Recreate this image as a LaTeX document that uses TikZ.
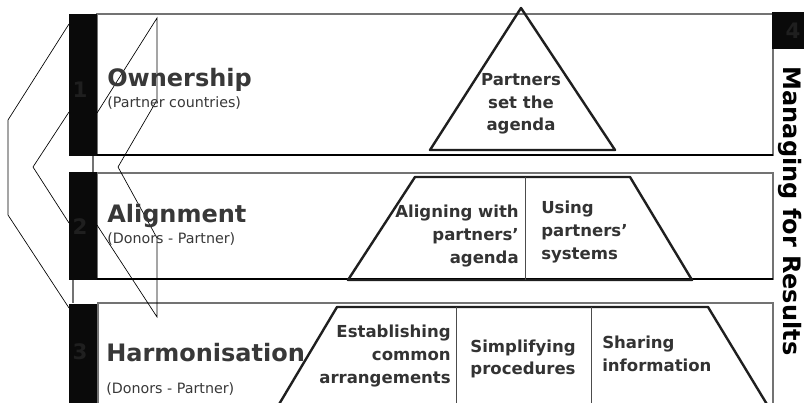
\documentclass[tikz,border=0pt]{standalone}
\usepackage{fontspec}
\setmainfont{DejaVu Sans}
\usepackage{xcolor}
\usepackage{tikz}

\begin{document}
\begin{tikzpicture}[x=0.75pt,y=-0.75pt,
	chev/.style={black,line width=0.5pt},
	band/.style={draw=black!55,line width=0.9pt,fill=white},
	bar/.style={fill=black!96},
	num/.style={text=black!88,inner sep=0pt,font=\fontsize{16}{16}\selectfont\bfseries},
	bandname/.style={anchor=base west,text=black!78,inner sep=0pt,font=\fontsize{18}{18}\selectfont\bfseries},
	bandsub/.style={anchor=base west,text=black!78,inner sep=0pt,font=\fontsize{10.7}{12}\selectfont},
	pyr/.style={text=black!80,inner sep=0pt,font=\fontsize{12.4}{16.9}\selectfont\bfseries},
	pline/.style={black!88,line width=1.8pt,line join=round},
	divide/.style={black!70,line width=0.6pt}]
			\useasboundingbox (0,0) rectangle (804,403);
			% Vẽ mũi tên bên trái
			\draw[chev] (69,24) -- (8,120) -- (8,215) -- (69,308);
			\draw[chev] (69,112) -- (33,167) -- (69,223);
			% Vẽ các dải
			\draw[band] (97,14) rectangle (773,155);
			\draw[band] (97,173) rectangle (773,279);
			\filldraw[band] (98,404) -- (98,303) -- (773,303) -- (773,404);
			\draw[black,line width=0.9pt] (93,155) -- (773,155);
			\draw[black,line width=0.9pt] (73,279) -- (773,279);
			\draw[black!55,line width=0.9pt] (93,155) -- (93,173);
			\draw[black!55,line width=0.9pt] (73,279) -- (73,303);
			% Mũi tên thứ hai
			\draw[chev] (97,113) -- (157,18) -- (157,100) -- (118,167) -- (157,238) -- (157,317) -- (97,225);
			% Vẽ các cột đen
			\foreach \t/\b/\c [count=\i] in {14/156/90,172/280/227,304/404/352}
			{\fill[bar] (69,\t) rectangle (97,\b);
			\node[num] (n\i) at (80,\c) {\i};}
			% Tên các dải
			\node[bandname] (own) at (107,87) {Ownership};
			\node[bandsub] (ownsub) at (107,108) {(Partner countries)};
			\node[bandname] (ali) at (107,222) {Alignment};
			\node[bandsub] (alisub) at (107,243) {(Donors - Partner)};
			\node[bandname] (har) at (106,361) {Harmonisation};
			\node[bandsub] (harsub) at (106,393) {(Donors - Partner)};
			% Vẽ kim tự tháp
			\draw[pline] (521,8) -- (615,150) -- (430,150) -- cycle;
			\draw[pline] (415,177) -- (630,177) -- (692,280) -- (348,280) -- cycle;
			\draw[divide] (525,177) -- (525,280);
			\draw[pline] (278,406) -- (337,307) -- (708,307) -- (768,406);
			\foreach \x in {456,591}
			\draw[divide] (\x,307) -- (\x,404);
			\node[pyr,align=center] (agenda) at (521,104) {Partners\\set the\\agenda};
			\node[pyr,align=right,anchor=east] (aligning) at (519,236) {Aligning with\\partners’\\agenda};
			\node[pyr,align=left,anchor=west] (using) at (541,232) {Using\\partners’\\systems};
			\node[pyr,align=right,anchor=east] (common) at (451,356) {Establishing\\common\\arrangements};
			\node[pyr,align=center] (simpl) at (523,359) {Simplifying\\procedures};
			\node[pyr,align=left,anchor=west] (sharing) at (602,354) {Sharing\\information};
			% Cột bên phải
			\fill[bar] (772,12) rectangle (804,49);
			\node[num] (n4) at (793,31) {4};
			\node[rotate=-90,inner sep=0pt,font=\fontsize{18}{18}\selectfont\bfseries] (mfr) at (790,211) {Managing for Results};
		\end{tikzpicture}
\end{document}
